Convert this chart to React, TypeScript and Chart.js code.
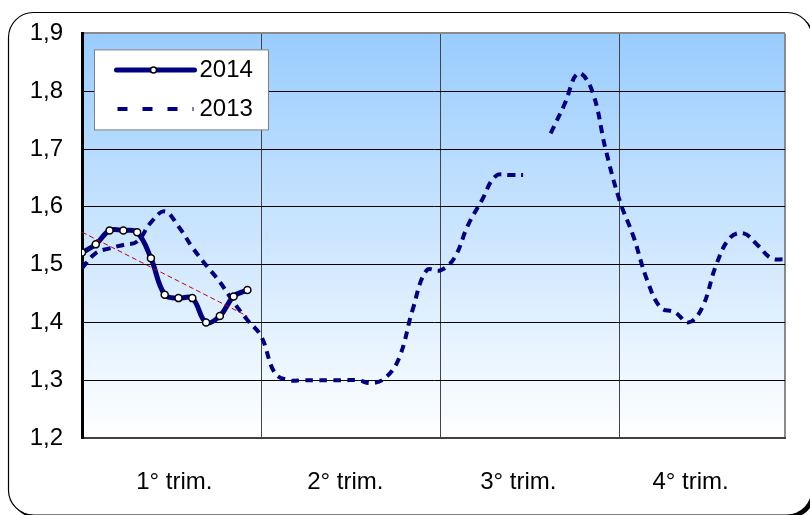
import React, { useEffect, useRef } from 'react';
import { Chart, registerables } from 'chart.js';

Chart.register(...registerables);

// ---- data ----
const quarterLabels = ['1° trim.', '2° trim.', '3° trim.', '4° trim.'];
const quarterLabelPositions = [6.7, 19.1, 31.65, 44.15];
const quarterBoundaries = [0, 13, 26, 39, 51];
const yTickValues = [1.2, 1.3, 1.4, 1.5, 1.6, 1.7, 1.8, 1.9];

const seriesLabels = ['2014', '2013'];
const series2014 = [1.521, 1.535, 1.559, 1.559, 1.556, 1.511, 1.448, 1.442, 1.442, 1.4, 1.411, 1.445, 1.456];
const series2013: (number | null)[] = [
  1.494, 1.52, 1.528, 1.534, 1.54, 1.573, 1.592, 1.566, 1.53, 1.499, 1.47, 1.435, 1.404,
  1.376, 1.312, 1.3, 1.3, 1.3, 1.3, 1.3, 1.3, 1.295, 1.304, 1.338, 1.423, 1.49,
  1.49, 1.511, 1.568, 1.611, 1.653, 1.655, 1.655, null, 1.727, 1.777, 1.831, 1.801, 1.698,
  1.611, 1.549, 1.473, 1.425, 1.418, 1.4, 1.426, 1.499, 1.546, 1.554, 1.534, 1.511, 1.509,
];

// linear trend of the 2014 series (least squares)
function linearTrend(vals: number[]) {
  const n = vals.length;
  const mx = (n - 1) / 2;
  const my = vals.reduce((a, b) => a + b, 0) / n;
  let sxy = 0, sxx = 0;
  vals.forEach((v, i) => { sxy += (i - mx) * (v - my); sxx += (i - mx) * (i - mx); });
  const slope = sxy / sxx;
  return vals.map((_, i) => ({ x: i, y: my + slope * (i - mx) }));
}

const FONT = "'Liberation Sans', Arial, sans-serif";
const NAVY = '#000080';

function roundRectPath(ctx: CanvasRenderingContext2D, x: number, y: number, w: number, h: number, r: number) {
  ctx.beginPath();
  ctx.moveTo(x + r, y);
  ctx.lineTo(x + w - r, y);
  ctx.arcTo(x + w, y, x + w, y + r, r);
  ctx.lineTo(x + w, y + h - r);
  ctx.arcTo(x + w, y + h, x + w - r, y + h, r);
  ctx.lineTo(x + r, y + h);
  ctx.arcTo(x, y + h, x, y + h - r, r);
  ctx.lineTo(x, y + r);
  ctx.arcTo(x, y, x + r, y, r);
  ctx.closePath();
}

const framePlugin = {
  id: 'frameAndLegend',
  beforeDraw(chart: any) {
    const { ctx, chartArea: a } = chart;
    ctx.save();
    ctx.fillStyle = '#ffffff';
    ctx.fillRect(0, 0, chart.width, chart.height);
    // shadow
    ctx.fillStyle = '#000000';
    roundRectPath(ctx, 11.5, 15.5, 803.5, 502.5, 25);
    ctx.fill();
    // frame
    ctx.fillStyle = '#ffffff';
    roundRectPath(ctx, 8.5, 12.5, 803.5, 502.5, 25);
    ctx.fill();
    ctx.strokeStyle = '#000000';
    ctx.lineWidth = 1.2;
    ctx.stroke();
    // plot area gradient
    const g = ctx.createLinearGradient(0, a.top, 0, a.bottom);
    g.addColorStop(0, '#99ccff');
    g.addColorStop(1, '#ffffff');
    ctx.fillStyle = g;
    ctx.fillRect(a.left, a.top, a.right - a.left, a.bottom - a.top);
    ctx.restore();
  },
  afterDraw(chart: any) {
    const { ctx, chartArea: a } = chart;
    const ds = chart.data.datasets;
    const d2014 = ds.find((d: any) => d.label === seriesLabels[0]);
    const d2013 = ds.find((d: any) => d.label === seriesLabels[1]);
    const bx = a.left + 12.5, by = a.top + 16.5, bw = 174, bh = 80;
    ctx.save();
    ctx.fillStyle = '#ffffff';
    ctx.fillRect(bx, by, bw, bh);
    ctx.strokeStyle = '#808080';
    ctx.lineWidth = 1;
    ctx.strokeRect(bx, by, bw, bh);

    // item 1: 2014
    const y1 = by + 20;
    ctx.strokeStyle = d2014.borderColor;
    ctx.lineWidth = 5;
    ctx.lineCap = 'round';
    ctx.beginPath();
    ctx.moveTo(bx + 22, y1);
    ctx.lineTo(bx + 100, y1);
    ctx.stroke();
    ctx.beginPath();
    ctx.arc(bx + 59, y1, 3, 0, Math.PI * 2);
    ctx.fillStyle = '#ffffff';
    ctx.fill();
    ctx.lineWidth = 1.5;
    ctx.strokeStyle = '#000000';
    ctx.stroke();

    // item 2: 2013
    const y2 = by + 59;
    ctx.strokeStyle = d2013.borderColor;
    ctx.lineWidth = 4;
    ctx.lineCap = 'butt';
    ctx.setLineDash([10, 15]);
    ctx.beginPath();
    ctx.moveTo(bx + 23, y2);
    ctx.lineTo(bx + 99, y2);
    ctx.stroke();
    ctx.setLineDash([]);

    ctx.fillStyle = '#000000';
    ctx.font = `24px ${FONT}`;
    ctx.textAlign = 'left';
    ctx.textBaseline = 'middle';
    ctx.fillText(d2014.label, bx + 105, y1);
    ctx.fillText(d2013.label, bx + 105, y2);
    ctx.restore();
  },
};

export default function App() {
  const ref = useRef<HTMLCanvasElement>(null);

  useEffect(() => {
    if (!ref.current) return;
    const chart = new Chart(ref.current, {
      type: 'line',
      data: {
        datasets: [
          {
            label: 'trend',
            data: linearTrend(series2014),
            borderColor: '#c00000',
            borderWidth: 1,
            borderDash: [5, 3],
            pointRadius: 0,
            tension: 0,
            fill: false,
            order: 0,
          },
          {
            label: seriesLabels[0],
            data: series2014.map((v, i) => ({ x: i, y: v })),
            borderColor: NAVY,
            borderWidth: 5,
            tension: 0.4,
            pointRadius: 3.5,
            pointBackgroundColor: '#ffffff',
            pointBorderColor: '#000000',
            pointBorderWidth: 1.5,
            fill: false,
            order: 1,
          },
          {
            label: seriesLabels[1],
            data: series2013.map((v, i) => ({ x: i, y: v })),
            borderColor: NAVY,
            borderWidth: 4,
            borderDash: [8, 6],
            tension: 0.4,
            pointRadius: 0,
            spanGaps: false,
            fill: false,
            order: 2,
          },
        ],
      } as any,
      options: {
        responsive: false,
        animation: false,
        devicePixelRatio: 1,
        layout: { padding: { left: 0, right: 25, top: 33, bottom: 0 } },
        plugins: { legend: { display: false }, tooltip: { enabled: false } },
        scales: {
          x: {
            type: 'linear',
            min: 0,
            max: 51,
            position: 'bottom',
            weight: 0,
            afterBuildTicks: (s: any) => { s.ticks = quarterBoundaries.map((v) => ({ value: v })); },
            afterFit: (s: any) => { s.height = 0; },
            ticks: { display: false },
            grid: {
              drawTicks: false,
              color: (c: any) => (c.tick.value === 0 ? 'rgba(0,0,0,0)' : c.tick.value === 51 ? '#8a8a8a' : '#444444'),
              lineWidth: (c: any) => (c.tick.value === 51 ? 2 : 1),
            },
            border: { display: true, color: '#404040', width: 2 },
          },
          x2: {
            type: 'linear',
            min: 0,
            max: 51,
            position: 'bottom',
            weight: 1,
            afterBuildTicks: (s: any) => { s.ticks = quarterLabelPositions.map((v) => ({ value: v })); },
            afterFit: (s: any) => { s.height = 77; },
            ticks: {
              autoSkip: false,
              maxRotation: 0,
              padding: 30,
              color: '#000000',
              font: { size: 24, family: FONT },
              callback: (_v: any, i: number) => quarterLabels[i],
            },
            grid: { display: false, drawTicks: false },
            border: { display: false },
          },
          y: {
            type: 'linear',
            min: 1.2,
            max: 1.9,
            afterBuildTicks: (s: any) => { s.ticks = yTickValues.map((v) => ({ value: v })); },
            afterFit: (s: any) => { s.width = 82; },
            ticks: {
              padding: 19,
              color: '#000000',
              font: { size: 24, family: FONT },
              callback: (v: any) => Number(v).toFixed(1).replace('.', ','),
            },
            grid: {
              drawTicks: false,
              color: (c: any) => {
                const v = c.tick.value;
                if (Math.abs(v - 1.9) < 1e-6) return '#8a8a8a';
                if (Math.abs(v - 1.2) < 1e-6) return 'rgba(0,0,0,0)';
                return '#000000';
              },
              lineWidth: (c: any) => (Math.abs(c.tick.value - 1.9) < 1e-6 ? 2 : 1),
            },
            border: { color: '#000000', width: 3 },
          },
        },
      } as any,
      plugins: [framePlugin],
    });
    return () => chart.destroy();
  }, []);

  return (
    <div style={{ position: 'fixed', left: 0, top: 0, width: 810, height: 515, background: '#ffffff' }}>
      <canvas ref={ref} width={810} height={515} style={{ display: 'block', width: 810, height: 515 }} />
    </div>
  );
}
